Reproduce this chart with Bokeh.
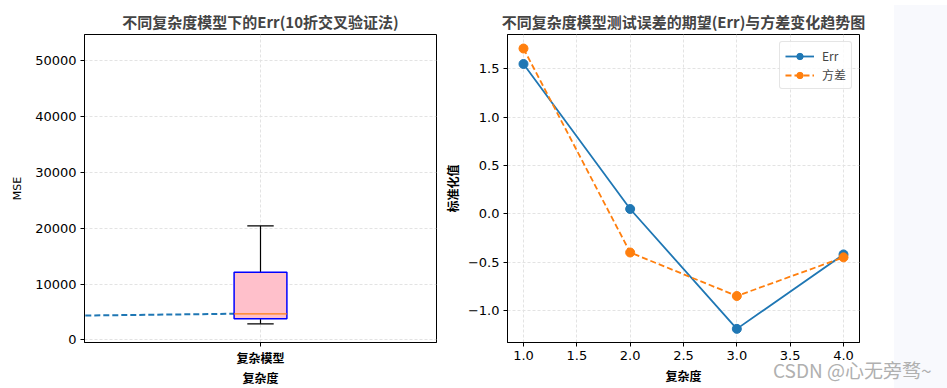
from bokeh.plotting import figure
from bokeh.layouts import row
from bokeh.models import FixedTicker, Range1d, Div, InlineStyleSheet
from bokeh.embed import file_html
from bokeh.resources import INLINE

CJK = "Noto Sans CJK SC"
NUM = "DejaVu Sans"

# ---------------- data: left chart (boxplot of MSE) ----------------
box_positions = [1]
box_names = ["复杂模型"]
box_q1 = [3760]
box_median = [4650]
box_q3 = [12100]
box_whisker_low = [2870]
box_whisker_high = [20400]
trend_x = [-0.2, 1.0]
trend_y = [4280, 4720]
mse_ticks = [0, 10000, 20000, 30000, 40000, 50000]
mse_tick_labels = ["0", "10000", "20000", "30000", "40000", "50000"]

# ---------------- data: right chart (standardised Err / variance) ----------------
complexity = [1, 2, 3, 4]
err_std = [1.55, 0.05, -1.19, -0.42]
var_std = [1.71, -0.40, -0.85, -0.45]
cx_ticks = [1.0, 1.5, 2.0, 2.5, 3.0, 3.5, 4.0]
cx_tick_labels = ["1.0", "1.5", "2.0", "2.5", "3.0", "3.5", "4.0"]
std_ticks = [-1.0, -0.5, 0.0, 0.5, 1.0, 1.5]
std_tick_labels = ["\u22121.0", "\u22120.5", "0.0", "0.5", "1.0", "1.5"]

WATERMARK = "CSDN @心无旁骛~"

BLUE = "#1f77b4"
ORANGE = "#ff7f0e"
GRID = "#e3e3e3"


def style(p):
    p.outline_line_color = "black"
    p.outline_line_width = 1
    p.outline_line_alpha = 1
    p.background_fill_color = "white"
    p.border_fill_color = "white"
    for ax in (p.xaxis[0], p.yaxis[0]):
        ax.axis_line_color = "black"
        ax.major_tick_line_color = "black"
        ax.major_tick_out = 4
        ax.major_tick_in = 0
        ax.minor_tick_line_color = None
        ax.major_label_text_font = NUM
        ax.major_label_text_font_size = "13px"
        ax.major_label_text_color = "black"
        ax.major_label_standoff = 4
        ax.axis_label_text_font = CJK
        ax.axis_label_text_font_size = "12px"
        ax.axis_label_text_font_style = "bold"
        ax.axis_label_text_color = "black"
        ax.axis_label_standoff = 4
    for g in (p.xgrid[0], p.ygrid[0]):
        g.grid_line_color = GRID
        g.grid_line_dash = "3 2"
        g.grid_line_width = 1
    p.title.text_font = CJK
    p.title.text_font_size = "15px"
    p.title.text_font_style = "bold"
    p.title.align = "center"
    p.title.standoff = 5


# ---------------- left figure ----------------
p1 = figure(
    frame_width=352, frame_height=308,
    min_border_left=84, min_border_right=4, min_border_top=34, min_border_bottom=46,
    x_range=Range1d(0, 2), y_range=Range1d(-480, 54700),
    output_backend="svg", toolbar_location=None,
    title="不同复杂度模型下的Err(10折交叉验证法)",
)
style(p1)
p1.xaxis.ticker = FixedTicker(ticks=box_positions)
p1.xaxis.major_label_overrides = {b: n for b, n in zip(box_positions, box_names)}
p1.xaxis.major_label_text_font = CJK
p1.xaxis.major_label_text_font_size = "12px"
p1.xaxis.major_label_text_font_style = "bold"
p1.xaxis.major_label_standoff = 2
p1.xaxis.axis_label_standoff = 0
p1.xgrid.ticker = FixedTicker(ticks=box_positions)
p1.yaxis.ticker = FixedTicker(ticks=mse_ticks)
p1.yaxis.major_label_overrides = {t: s for t, s in zip(mse_ticks, mse_tick_labels)}
p1.ygrid.ticker = FixedTicker(ticks=mse_ticks)
p1.xaxis.axis_label = "复杂度"
p1.yaxis.axis_label = "MSE"
p1.yaxis.axis_label_text_font = NUM
p1.yaxis.axis_label_text_font_style = "normal"
p1.yaxis.axis_label_text_font_size = "11px"
p1.yaxis.axis_label_standoff = 8

p1.line(trend_x, trend_y, line_color=BLUE, line_width=2, line_dash="6 3")

box_w = 0.3
cap_w = 0.15
p1.segment(x0=box_positions, y0=box_q3, x1=box_positions, y1=box_whisker_high, line_color="black", line_width=1.2)
p1.segment(x0=box_positions, y0=box_q1, x1=box_positions, y1=box_whisker_low, line_color="black", line_width=1.2)
p1.segment(x0=[b - cap_w / 2 for b in box_positions], y0=box_whisker_high,
           x1=[b + cap_w / 2 for b in box_positions], y1=box_whisker_high, line_color="black", line_width=1.2)
p1.segment(x0=[b - cap_w / 2 for b in box_positions], y0=box_whisker_low,
           x1=[b + cap_w / 2 for b in box_positions], y1=box_whisker_low, line_color="black", line_width=1.2)
p1.vbar(x=box_positions, width=box_w, bottom=box_q1, top=box_q3,
        fill_color="pink", line_color="blue", line_width=1.5)
p1.segment(x0=[b - box_w / 2 for b in box_positions], y0=box_median,
           x1=[b + box_w / 2 for b in box_positions], y1=box_median, line_color=ORANGE, line_width=1.3)

# ---------------- right figure ----------------
p2 = figure(
    frame_width=352, frame_height=308,
    min_border_left=67, min_border_right=30, min_border_top=34, min_border_bottom=46,
    x_range=Range1d(0.85, 4.15), y_range=Range1d(-1.331, 1.855),
    output_backend="svg", toolbar_location=None,
    title="不同复杂度模型测试误差的期望(Err)与方差变化趋势图",
)
style(p2)
p2.xaxis.ticker = FixedTicker(ticks=cx_ticks)
p2.xaxis.major_label_overrides = {t: s for t, s in zip(cx_ticks, cx_tick_labels)}
p2.xgrid.ticker = FixedTicker(ticks=cx_ticks)
p2.yaxis.ticker = FixedTicker(ticks=std_ticks)
p2.yaxis.major_label_overrides = {t: s for t, s in zip(std_ticks, std_tick_labels)}
p2.ygrid.ticker = FixedTicker(ticks=std_ticks)
p2.xaxis.axis_label = "复杂度"
p2.yaxis.axis_label = "标准化值"

p2.line(complexity, err_std, line_color=BLUE, line_width=1.8, legend_label="Err")
p2.scatter(complexity, err_std, size=9, fill_color=BLUE, line_color=BLUE, legend_label="Err")
p2.line(complexity, var_std, line_color=ORANGE, line_width=1.8, line_dash="6 3", legend_label="方差")
p2.scatter(complexity, var_std, size=9, fill_color=ORANGE, line_color=ORANGE, legend_label="方差")

lg = p2.legend[0]
lg.location = "top_right"
lg.margin = 7
lg.padding = 5
lg.spacing = 2
lg.glyph_width = 29
lg.glyph_height = 16
lg.label_standoff = 8
lg.label_text_font = CJK
lg.label_text_font_size = "12px"
lg.border_line_color = "#cccccc"
lg.border_line_width = 1
lg.border_radius = 3
lg.background_fill_alpha = 0.8

# light page background to the right of the figure, and the watermark on top of it
bg = Div(text="", stylesheets=[InlineStyleSheet(css=(
    ":host{position:absolute !important; left:889px !important; top:0px !important;"
    " width:58px !important; height:388px !important; background:#f8f9fd; z-index:1;}"
))])
wm = Div(text=WATERMARK, stylesheets=[InlineStyleSheet(css=(
    ":host{position:absolute !important; left:773px !important; top:359px !important;"
    " z-index:2; white-space:nowrap;}"
    " :host, div{font-family:'Noto Sans CJK SC'; font-size:19px; color:#b0b0b0;"
    " white-space:nowrap; line-height:22px; margin:0; padding:0;}"
))])

layout = row(p1, p2, bg, wm)
open("out.html", "w").write(file_html(layout, INLINE))
